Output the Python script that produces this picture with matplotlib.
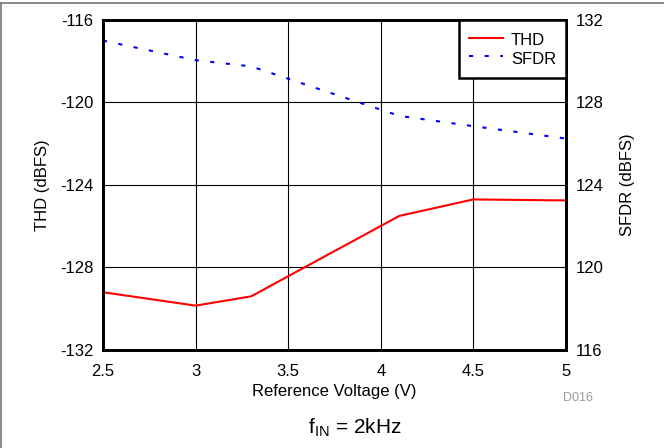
import numpy as np
import matplotlib
matplotlib.use("Agg")
import matplotlib.pyplot as plt
from matplotlib.lines import Line2D

plt.rcParams['font.family'] = ['Liberation Sans', 'DejaVu Sans']
plt.rcParams['axes.unicode_minus'] = False

# THD / SFDR versus reference voltage, fIN = 2kHz
vref = [2.5, 3.0, 3.3, 4.1, 4.5, 5.0]
thd = [-129.2, -129.85, -129.4, -125.5, -124.7, -124.75]
sfdr = [131.0, 130.05, 129.75, 127.35, 126.85, 126.25]

xticks = [2.5, 3, 3.5, 4, 4.5, 5]
thd_ticks = [-132, -128, -124, -120, -116]
sfdr_ticks = [116, 120, 124, 128, 132]

fig = plt.figure(figsize=(6.64, 4.48), dpi=100)
ax = fig.add_axes([0.1551, 0.2188, 0.6973, 0.7366])
ax2 = ax.twinx()

l1, = ax.plot(vref, thd, color='red', lw=1.5, label='THD')
l2, = ax2.plot(vref, sfdr, color='blue', lw=1.5, linestyle=(0, (2, 5.5)), label='SFDR')

ax.set_xlim(2.5, 5)
ax.set_ylim(-132, -116)
ax2.set_ylim(116, 132)
ax.set_xticks(xticks)
ax.set_xticklabels(['2.5', '3', '3.5', '4', '4.5', '5'])
ax.set_yticks(thd_ticks)
ax2.set_yticks(sfdr_ticks)

ax.grid(True, color='black', lw=0.8)
ax.tick_params(axis='x', length=0, labelsize=12, pad=10)
ax.tick_params(axis='y', length=0, labelsize=12, pad=7)
ax2.tick_params(length=0, labelsize=12, pad=7)

for a in (ax, ax2):
    for s in a.spines.values():
        s.set_linewidth(2)

ax.set_xlabel('Reference Voltage (V)', fontsize=12, labelpad=4)
ax.set_ylabel('THD (dBFS)', fontsize=12, labelpad=7)
ax2.set_ylabel('SFDR (dBFS)', fontsize=12, labelpad=12)

leg = ax2.legend(handles=[l1, l2], loc='upper right', borderaxespad=0,
                 fancybox=False, edgecolor='black', framealpha=1,
                 fontsize=12, handlelength=2.0, handletextpad=0.5,
                 handleheight=1.4, labelspacing=-0.03, borderpad=0.6)
leg.get_frame().set_linewidth(1.8)

fig.text(563 / 664, 1 - 398 / 448, 'D016', color='#999999', fontsize=9,
         ha='left', va='center')
fig.text(355 / 664, 1 - 428 / 448, r'f$_{\mathregular{IN}}$ = 2kHz', fontsize=15,
         ha='center', va='center')

# page frame lines
fig.add_artist(Line2D([0, 1], [1 - 3.5 / 448] * 2, color='#777777', lw=1.2,
                      transform=fig.transFigure))
fig.add_artist(Line2D([0.6 / 664] * 2, [0, 1 - 3.5 / 448], color='#777777', lw=1.2,
                      transform=fig.transFigure))

fig.savefig('out.png', dpi=100)
